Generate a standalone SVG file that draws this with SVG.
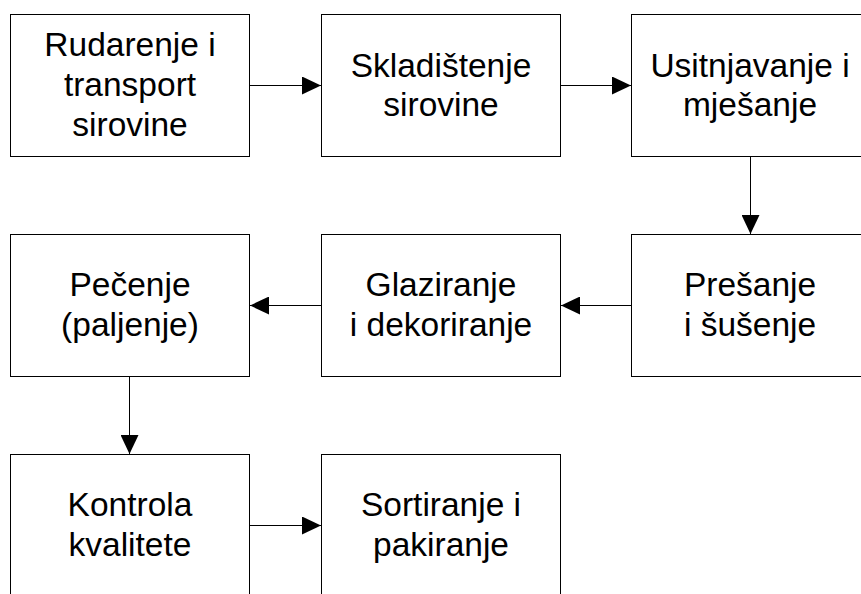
<svg xmlns="http://www.w3.org/2000/svg" width="861" height="594" viewBox="0 0 861 594">
<style>
.box{fill:#fff;stroke:#000;stroke-width:1}
.t{font-family:"Liberation Sans",Arial,sans-serif;font-size:33.5px;fill:#000;text-anchor:middle}
.c{stroke:#000;stroke-width:1;fill:none;marker-end:url(#ah)}
</style>
<defs>
<marker id="ah" markerUnits="userSpaceOnUse" markerWidth="19" markerHeight="18" refX="19" refY="9" orient="auto">
<path d="M0,0 L19,9 L0,18 Z" fill="#000"/>
</marker>
</defs>
<rect width="861" height="594" fill="#fff"/>
<g id="n1"><rect class="box" x="10.5" y="14.5" width="239" height="142"/>
<text class="t" x="130" y="56">Rudarenje i</text><text class="t" x="130" y="96">transport</text><text class="t" x="130" y="136">sirovine</text></g>
<g id="n2"><rect class="box" x="321.5" y="14.5" width="239" height="142"/>
<text class="t" x="441" y="76.5">Skladištenje</text><text class="t" x="441" y="116">sirovine</text></g>
<g id="n3"><rect class="box" x="631.5" y="14.5" width="239" height="142"/>
<text class="t" x="750" y="76.5">Usitnjavanje i</text><text class="t" x="750" y="116">mješanje</text></g>
<g id="n4"><rect class="box" x="631.5" y="234.5" width="239" height="142"/>
<text class="t" x="750" y="296">Prešanje</text><text class="t" x="750" y="335.5">i šušenje</text></g>
<g id="n5"><rect class="box" x="321.5" y="234.5" width="239" height="142"/>
<text class="t" x="441" y="296">Glaziranje</text><text class="t" x="441" y="335.5">i dekoriranje</text></g>
<g id="n6"><rect class="box" x="10.5" y="234.5" width="239" height="142"/>
<text class="t" x="130" y="296">Pečenje</text><text class="t" x="130" y="335.5">(paljenje)</text></g>
<g id="n7"><rect class="box" x="10.5" y="454.5" width="239" height="142"/>
<text class="t" x="130" y="516">Kontrola</text><text class="t" x="130" y="555.5">kvalitete</text></g>
<g id="n8"><rect class="box" x="321.5" y="454.5" width="239" height="142"/>
<text class="t" x="441" y="516">Sortiranje i</text><text class="t" x="441" y="555.5">pakiranje</text></g>
<g id="connectors">
<line class="c" x1="249.5" y1="85.5" x2="321" y2="85.5"/>
<line class="c" x1="560.5" y1="85.5" x2="631" y2="85.5"/>
<line class="c" x1="750.5" y1="156.5" x2="750.5" y2="234"/>
<line class="c" x1="631.5" y1="305.5" x2="561" y2="305.5"/>
<line class="c" x1="321.5" y1="305.5" x2="250" y2="305.5"/>
<line class="c" x1="129.5" y1="376.5" x2="129.5" y2="454"/>
<line class="c" x1="249.5" y1="525.5" x2="321" y2="525.5"/>
</g>
</svg>
